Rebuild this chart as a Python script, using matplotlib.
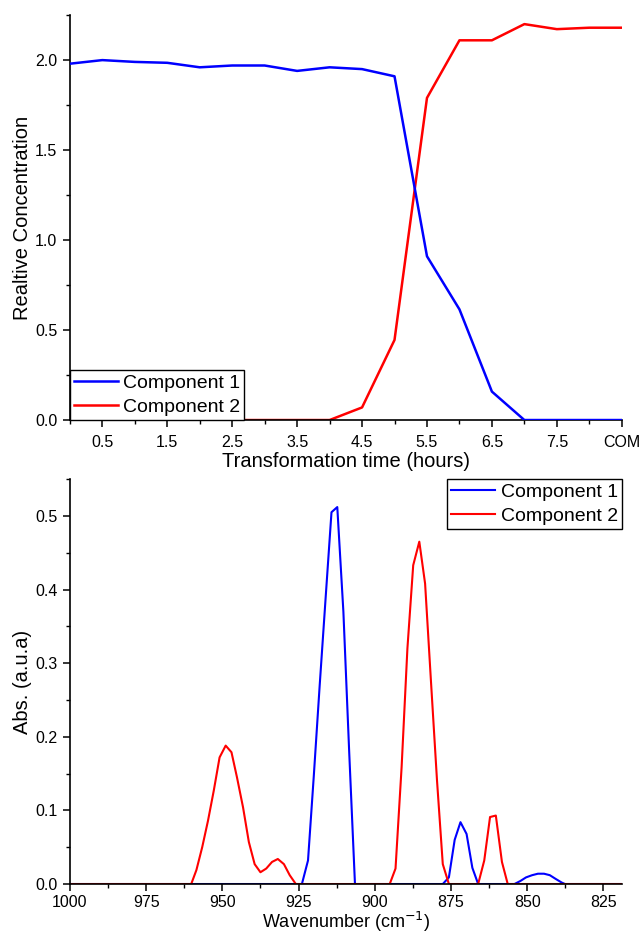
import numpy as np
import matplotlib
matplotlib.use('Agg')
import matplotlib.pyplot as plt
from matplotlib.ticker import FixedLocator, MultipleLocator

plt.rcParams['font.family'] = ['Liberation Sans', 'DejaVu Sans']

# top panel: relative concentration vs transformation time
time_points = [0, 0.5, 1.0, 1.5, 2.0, 2.5, 3.0, 3.5, 4.0, 4.5, 5.0, 5.5, 6.0, 6.5, 7.0, 7.5, 8.0, 8.5]
comp1_conc = [1.98, 2.00, 1.99, 1.985, 1.96, 1.97, 1.97, 1.94, 1.96, 1.95, 1.91, 0.91, 0.615, 0.158, 0.0, 0.0, 0.0, 0.0]
comp2_conc = [0.0, 0.0, 0.0, 0.0, 0.0, 0.0, 0.0, 0.0, 0.0, 0.07, 0.445, 1.79, 2.11, 2.11, 2.20, 2.172, 2.18, 2.18]
time_ticks = [0.5, 1.5, 2.5, 3.5, 4.5, 5.5, 6.5, 7.5, 8.5]
time_labels = ['0.5', '1.5', '2.5', '3.5', '4.5', '5.5', '6.5', '7.5', 'COM']

# bottom panel: resolved spectra
comp1_wn = [1000, 923.9, 921.9, 920.0, 918.1, 916.1, 914.2, 912.3, 910.3, 908.4, 906.5,
            877.7, 875.7, 873.8, 871.9, 869.9, 868.0, 866.1,
            854.2, 852.3, 850.4, 848.4, 846.5, 844.5, 842.6, 840.7, 838.7, 837.6, 819]
comp1_abs = [0, 0, 0.032, 0.147, 0.268, 0.39, 0.505, 0.512, 0.37, 0.18, 0,
             0, 0.009, 0.06, 0.084, 0.068, 0.022, 0,
             0, 0.004, 0.009, 0.012, 0.014, 0.014, 0.012, 0.007, 0.002, 0, 0]
comp2_wn = [1000, 960.2, 958.5, 956.6, 954.7, 952.8, 950.9, 948.9, 947.0, 945.2, 943.2, 941.3,
            939.4, 937.5, 935.6, 933.7, 931.8, 929.8, 927.9, 925.9,
            895.1, 893.2, 891.2, 889.3, 887.4, 885.4, 883.5, 881.6, 879.6, 877.7, 875.7,
            866.1, 864.1, 862.2, 860.3, 858.3, 856.4, 819]
comp2_abs = [0, 0, 0.019, 0.050, 0.086, 0.127, 0.172, 0.188, 0.179, 0.145, 0.104, 0.057,
             0.027, 0.016, 0.021, 0.030, 0.034, 0.027, 0.012, 0,
             0, 0.021, 0.159, 0.32, 0.433, 0.465, 0.408, 0.277, 0.141, 0.027, 0,
             0, 0.032, 0.091, 0.093, 0.03, 0, 0]

fig = plt.figure(figsize=(6.41, 9.33), dpi=100)
ax1 = fig.add_axes([0.109, 0.5498, 0.861, 0.434])
ax2 = fig.add_axes([0.109, 0.0525, 0.861, 0.434])

leg_kw = dict(fontsize=14, borderaxespad=0, fancybox=False, edgecolor='black',
              framealpha=1, handlelength=2.25, handletextpad=0.3, borderpad=0.2,
              labelspacing=0.35)

# top
ax1.plot(time_points, comp2_conc, color='#ff0000', lw=1.8, label='Component 2', zorder=2)
ax1.plot(time_points, comp1_conc, color='#0000ff', lw=1.8, label='Component 1', zorder=3)
ax1.set_xlim(0, 8.5)
ax1.set_ylim(0, 2.25)
ax1.xaxis.set_major_locator(FixedLocator(time_ticks))
ax1.set_xticklabels(time_labels)
ax1.xaxis.set_minor_locator(MultipleLocator(1.0))
ax1.yaxis.set_major_locator(MultipleLocator(0.5))
ax1.yaxis.set_minor_locator(MultipleLocator(0.25))
ax1.set_xlabel('Transformation time (hours)', fontsize=14.5)
ax1.xaxis.set_label_coords(0.5, -0.078)
ax1.set_ylabel('Realtive Concentration', fontsize=14.5, labelpad=2.5)
h, l = ax1.get_legend_handles_labels()
ax1.legend(h[::-1], l[::-1], loc='lower left', **leg_kw)

# bottom
ax2.plot(comp1_wn, comp1_abs, color='#0000ff', lw=1.5, label='Component 1')
ax2.plot(comp2_wn, comp2_abs, color='#ff0000', lw=1.5, label='Component 2')
ax2.set_xlim(1000, 819)
ax2.set_ylim(0, 0.55)
ax2.xaxis.set_major_locator(MultipleLocator(25))
ax2.xaxis.set_minor_locator(MultipleLocator(12.5))
ax2.yaxis.set_major_locator(MultipleLocator(0.1))
ax2.yaxis.set_minor_locator(MultipleLocator(0.05))
ax2.set_xlabel('Wavenumber (cm$^{-1}$)', fontsize=13)
ax2.xaxis.set_label_coords(0.5, -0.063)
ax2.set_ylabel('Abs. (a.u.a)', fontsize=14.5, labelpad=2.5)
ax2.legend(loc='upper right', **leg_kw)

for ax in (ax1, ax2):
    ax.spines['top'].set_visible(False)
    ax.spines['right'].set_visible(False)
    ax.spines['left'].set_linewidth(1.2)
    ax.spines['bottom'].set_linewidth(1.2)
    ax.tick_params(which='major', direction='out', length=5, width=1.1, labelsize=11.5)
    ax.tick_params(which='minor', direction='out', length=3, width=1.0)
    ax.tick_params(axis='y', which='major', pad=4)
    ax.yaxis.set_major_formatter(plt.FormatStrFormatter('%.1f'))

ax1.tick_params(axis='x', which='major', pad=6)
ax2.tick_params(axis='x', which='major', pad=3)

fig.savefig('out.png', dpi=100)
